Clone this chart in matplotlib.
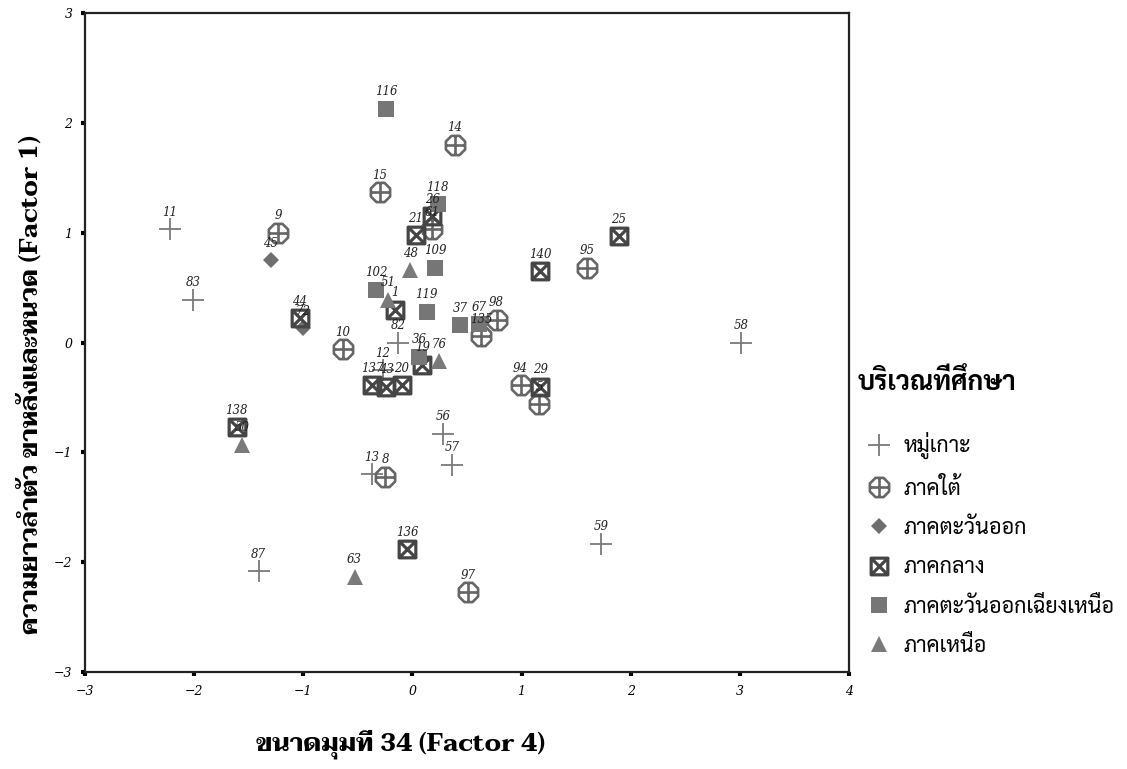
import matplotlib
matplotlib.use('Agg')
import matplotlib.pyplot as plt
from matplotlib.path import Path
import numpy as np

# region names (legend order)
groups = ['หมู่เกาะ', 'ภาคใต้', 'ภาคตะวันออก', 'ภาคกลาง',
          'ภาคตะวันออกเฉียงเหนือ', 'ภาคเหนือ']

# หมู่เกาะ
isl_x = [-2.22, -2.01, -0.13, -0.27, 0.28, 0.36, -0.37, -1.41, 1.73, 3.01]
isl_y = [1.03, 0.39, 0.00, -0.25, -0.83, -1.11, -1.20, -2.08, -1.83, 0.00]
isl_lab = ['11', '83', '82', '12', '56', '57', '13', '87', '59', '58']

# ภาคใต้
south_x = [-1.23, -0.64, -0.30, 0.39, 0.18, 0.63, 0.77, 0.99, 1.16, 1.60, -0.25, 0.51]
south_y = [1.00, -0.06, 1.37, 1.80, 1.03, 0.06, 0.21, -0.39, -0.56, 0.68, -1.22, -2.27]
south_lab = ['9', '10', '15', '14', '61', '135', '98', '94', '5', '95', '8', '97']

# ภาคตะวันออก
east_x = [-1.30, -1.00]
east_y = [0.75, 0.13]
east_lab = ['45', '72']

# ภาคกลาง
cen_x = [0.03, 0.18, -0.16, -1.03, 1.17, 1.89, 0.09, -0.37, -0.24, -0.10, 1.17, -1.61, -0.05]
cen_y = [0.98, 1.15, 0.30, 0.22, 0.65, 0.97, -0.20, -0.39, -0.40, -0.39, -0.40, -0.77, -1.88]
cen_lab = ['21', '26', '1', '44', '140', '25', '19', '137', '43', '20', '29', '138', '136']

# ภาคตะวันออกเฉียงเหนือ
ne_x = [-0.24, 0.23, 0.21, -0.33, 0.13, 0.44, 0.61, 0.06]
ne_y = [2.13, 1.26, 0.68, 0.48, 0.28, 0.16, 0.17, -0.13]
ne_lab = ['116', '118', '109', '102', '119', '37', '67', '36']

# ภาคเหนือ
north_x = [-0.02, -0.22, 0.24, -1.56, -0.53]
north_y = [0.66, 0.39, -0.17, -0.93, -2.13]
north_lab = ['48', '51', '76', '50', '63']

xticks = [-3, -2, -1, 0, 1, 2, 3, 4]
yticks = [-3, -2, -1, 0, 1, 2, 3]

# custom markers: octagon with plus, square with X
ang = np.deg2rad(22.5 + 45 * np.arange(8))
oct_v = [(np.cos(a), np.sin(a)) for a in ang]
circ_path = Path(oct_v + [oct_v[0], (-1, 0), (1, 0), (0, -1), (0, 1)],
                 [Path.MOVETO] + [Path.LINETO] * 7 + [Path.CLOSEPOLY,
                  Path.MOVETO, Path.LINETO, Path.MOVETO, Path.LINETO])
sq_v = [(-1, -1), (1, -1), (1, 1), (-1, 1)]
box_path = Path(sq_v + [sq_v[0], (-1, -1), (1, 1), (-1, 1), (1, -1)],
                [Path.MOVETO] + [Path.LINETO] * 3 + [Path.CLOSEPOLY,
                 Path.MOVETO, Path.LINETO, Path.MOVETO, Path.LINETO])

serif = ['DejaVu Serif']
thai_serif = ['Taviraj', 'Noto Serif Thai', 'DejaVu Serif']
thai_sans = ['Sarabun', 'DejaVu Sans']

fig = plt.figure(figsize=(11.27, 7.69), dpi=100)
ax = fig.add_axes([0.0754, 0.126, 0.678, 0.857])

styles = [
    (isl_x, isl_y, isl_lab, dict(marker='+', markersize=16, markeredgewidth=1.3,
                                 color='#7a7a7a')),
    (south_x, south_y, south_lab, dict(marker=circ_path, markersize=15, markeredgewidth=1.9,
                                       markerfacecolor='none', markeredgecolor='#666666')),
    (east_x, east_y, east_lab, dict(marker='D', markersize=8.5, markeredgewidth=0,
                                    color='#6e6e6e')),
    (cen_x, cen_y, cen_lab, dict(marker=box_path, markersize=12, markeredgewidth=2.3,
                                 markerfacecolor='none', markeredgecolor='#454545')),
    (ne_x, ne_y, ne_lab, dict(marker='s', markersize=11, markeredgewidth=0,
                              color='#767676')),
    (north_x, north_y, north_lab, dict(marker='^', markersize=11, markeredgewidth=0,
                                       color='#7a7a7a')),
]

handles = []
for (xs, ys, labs, st), name in zip(styles, groups):
    h, = ax.plot(xs, ys, linestyle='none', label=name, **st)
    handles.append(h)
    for x, y, t in zip(xs, ys, labs):
        ax.annotate(t, (x, y), xytext=(0, 7.5), textcoords='offset points',
                    ha='center', va='bottom', fontsize=8.5, style='italic',
                    family=serif, color='#222222')

ax.set_xlim(-3, 4)
ax.set_ylim(-3, 3)
ax.set_xticks(xticks)
ax.set_yticks(yticks)
ax.set_xticklabels([str(v) if v >= 0 else '\u2212' + str(-v) for v in xticks],
                   style='italic', family=serif, fontsize=9)
ax.set_yticklabels([str(v) if v >= 0 else '\u2212' + str(-v) for v in yticks],
                   style='italic', family=serif, fontsize=9)
ax.tick_params(direction='out', length=3, width=3, color='black', pad=6)
for s in ax.spines.values():
    s.set_linewidth(1.6)
    s.set_color('#222222')

fig.text(0.355, 0.032, 'ขนาดมุมที่ 34 (Factor 4)', ha='center', va='center',
         fontsize=18, fontweight='bold', family=thai_serif)
fig.text(0.027, 0.5, 'ความยาวลำตัว ขาหลังและหนวด (Factor 1)', ha='center', va='center',
         rotation=90, fontsize=18, fontweight='bold', family=thai_serif)

leg = fig.legend(handles=handles, loc='upper left', bbox_to_anchor=(0.761, 0.52),
                 frameon=False, title='บริเวณที่ศึกษา', borderpad=0, borderaxespad=0,
                 labelspacing=0.85, handletextpad=0.15, handlelength=2.0,
                 prop={'family': thai_sans, 'size': 15.5},
                 title_fontproperties={'family': thai_sans, 'size': 19, 'weight': 'bold'})
leg._legend_box.align = 'left'
leg._legend_box.sep = 26

fig.savefig('out.png', dpi=100)
